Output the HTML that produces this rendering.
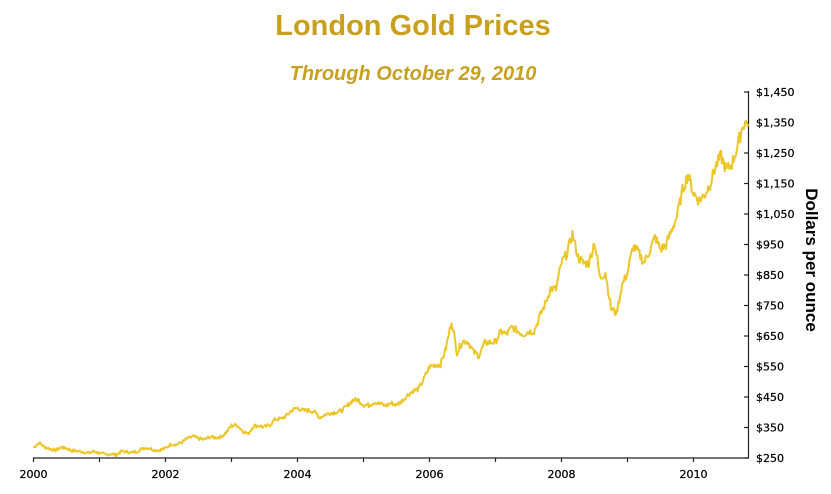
<!DOCTYPE html>
<html><head><meta charset="utf-8"><style>
body{margin:0;background:#fff;width:831px;height:494px;overflow:hidden}
svg{display:block}
</style></head><body>
<svg id="s" width="831" height="494" xmlns="http://www.w3.org/2000/svg" font-family="DejaVu Sans, sans-serif">
<text x="413" y="35" text-anchor="middle" font-family="Liberation Sans, sans-serif" font-weight="bold" font-size="29" fill="#C9A01E">London Gold Prices</text>
<text x="413" y="80" text-anchor="middle" font-family="Liberation Sans, sans-serif" font-weight="bold" font-style="italic" font-size="20" fill="#C9A01E">Through October 29, 2010</text>
<g id="ax" stroke="#222" stroke-width="1.2"></g>
<g id="lb" font-size="11" fill="#000" stroke="#000" stroke-width="0.25"></g>
<text transform="translate(806,260) rotate(90)" text-anchor="middle" font-family="Liberation Sans, sans-serif" font-weight="bold" font-size="17" fill="#000">Dollars per ounce</text>
<polyline id="ln" fill="none" stroke="#EDC62A" stroke-width="2" stroke-linejoin="round"/>
</svg>
<script>
var ax=document.getElementById('ax'),lb=document.getElementById('lb'),NS='http://www.w3.org/2000/svg';
function el(p,t,a,tx){var e=document.createElementNS(NS,t);for(var k in a)e.setAttribute(k,a[k]);if(tx)e.textContent=tx;p.appendChild(e);}
function X(t){return 33.5+66*(t-2000);}function Y(p){return 458-(p-250)*0.305;}
el(ax,'line',{x1:33,y1:458,x2:749,y2:458});el(ax,'line',{x1:748.5,y1:91,x2:748.5,y2:458});
for(var y=2000;y<=2010;y++){el(ax,'line',{x1:X(y),y1:458,x2:X(y),y2:462});if(y%2==0)el(lb,'text',{x:X(y),y:478,'text-anchor':'middle'},String(y));}
for(var p=250;p<=1450;p+=100){el(ax,'line',{x1:744,y1:Y(p),x2:748.5,y2:Y(p)});el(lb,'text',{x:756,y:Y(p)+4},'$'+(p>=1000?Math.floor(p/1000)+','+String(p%1000).padStart(3,'0'):p));}
var d=[284,300,286,280,275,285,282,274,273,270,266,272,
266,262,263,260,272,270,268,272,283,283,276,276,
282,296,294,302,314,321,314,310,319,317,319,333,
356,358,340,328,355,356,351,359,378,378,389,407,
414,405,406,403,383,392,398,400,405,420,439,441,
424,423,434,428,421,430,424,437,456,470,476,510,
549,555,557,610,700,596,633,632,598,585,627,629,
631,665,655,679,667,655,665,665,712,754,806,803,
889,922,985,909,888,889,960,839,860,740,725,816,
858,943,924,890,928,975,934,949,996,1043,1127,1180,
1118,1095,1113,1148,1205,1240,1193,1215,1271,1343,1355];
var s=7,pts=[];function r(){s=(s*9301+49297)%233280;return s/233280-0.5;}
for(var i=0;i<d.length-1;i++){for(var k=0;k<6;k++){var f=k/6,v=d[i]*(1-f)+d[i+1]*f;v+=r()*v*0.035;pts.push(X(2000+(i+f)/12).toFixed(1)+','+Y(v).toFixed(1));}}
pts.push(X(2010.83)+','+Y(1345));
document.getElementById('ln').setAttribute('points',pts.join(' '));
</script>
</body></html>
